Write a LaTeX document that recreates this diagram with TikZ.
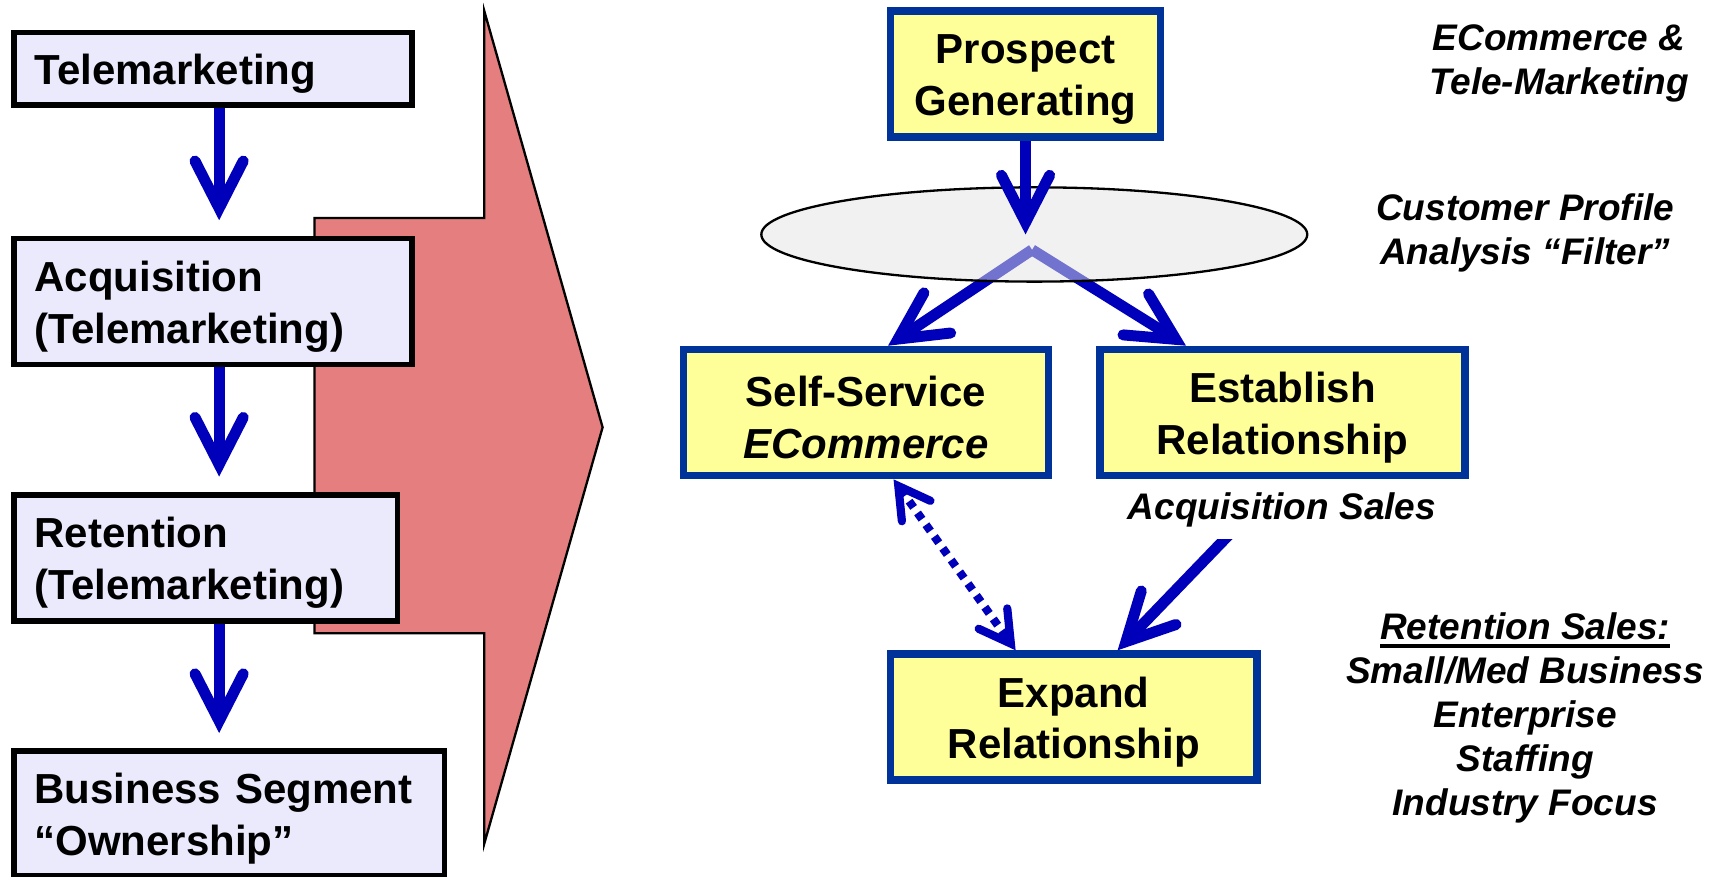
\documentclass[tikz,border=0pt]{standalone}
\usepackage{fontspec}
\setmainfont{Liberation Sans}
\usetikzlibrary{arrows.meta,shapes.geometric}

\definecolor{stagelav}{RGB}{234,234,252}
\definecolor{paleyellow}{RGB}{255,255,153}
\definecolor{boxblue}{RGB}{0,51,153}
\definecolor{arrowblue}{RGB}{0,0,187}
\definecolor{funnelpink}{RGB}{229,126,126}
\definecolor{filtergray}{RGB}{228,228,228}

% raises the first line so caps sit centred in the box
\newcommand\topstrut{\rule{0pt}{0.37cm}}
% heavy underline for the retention heading
\newcommand\ulinetext[1]{\setbox0=\hbox{#1}\rlap{\rule[-0.075cm]{\wd0}{0.035cm}}\box0}

\tikzset{
  bigbarb/.tip={Straight Barb[length=0.43cm,width=0.44cm,line cap=round,line join=miter]},
  smallbarb/.tip={Straight Barb[length=0.28cm,width=0.32cm,line cap=round,line join=miter]},
}

\begin{document}
\begin{tikzpicture}[x=0.01cm, y=-0.01cm,
  boxfont/.style={font=\fontsize{10.9pt}{13.4pt}\selectfont\bfseries},
  notefont/.style={font=\fontsize{9.6pt}{11.4pt}\selectfont\bfseries\itshape},
  leftbox/.style={draw=black, line width=1.45pt, fill=stagelav, anchor=north west,
    inner xsep=0.19cm, inner ysep=0pt, align=left, boxfont},
  stagebox/.style={draw=boxblue, line width=1.95pt, fill=paleyellow, inner sep=0pt,
    align=center, boxfont, minimum height=1.15cm},
  flow/.style={draw=arrowblue, line width=0.1cm, -bigbarb},
  dotflow/.style={draw=arrowblue, line width=0.075cm, dash pattern=on 0.07cm off 0.062cm,
    smallbarb-smallbarb},
  note/.style={notefont, align=center},
]
\useasboundingbox (0,0) rectangle (1568,800);

% funnel arrow behind the stage list
\filldraw[fill=funnelpink, draw=black, line width=0.6pt, line join=miter]
  (442,10) -- (442,199) -- (287,199) -- (287,578) -- (442,578) -- (442,770) -- (550,390) -- cycle;

% stage list on the left
\node[leftbox, text width=3.25cm, minimum height=0.66cm] (tele) at (10,27) {\topstrut Telemarketing};
\node[leftbox, text width=3.25cm, minimum height=1.15cm] (acq) at (10,215) {\topstrut Acquisition\\(Telemarketing)};
\node[leftbox, text width=3.12cm, minimum height=1.15cm] (ret) at (10,449) {\topstrut Retention\\(Telemarketing)};
\node[leftbox, text width=3.55cm, minimum height=1.14cm] (bus) at (10,683) {\topstrut Business Segment\\“Ownership”};

\coordinate (ax) at (200,0);
\draw[flow, shorten >=0.14cm] (tele.south -| ax) -- (acq.north -| ax);
\draw[flow, shorten >=0.14cm] (acq.south -| ax) -- (ret.north -| ax);
\draw[flow, shorten >=0.14cm] (ret.south -| ax) -- (bus.north -| ax);

% sales flow on the right
\node[stagebox, minimum width=2.46cm] (pg) at (936,67.5) {\topstrut Prospect\\Generating};
\node[stagebox, minimum width=3.33cm] (ss) at (790.5,376.5) {\topstrut Self-Service\\{\itshape ECommerce}};
\node[stagebox, minimum width=3.33cm] (er) at (1170.5,376.5) {\topstrut Establish\\Relationship};
\node[stagebox, minimum width=3.34cm] (ex) at (980,654.5) {\topstrut Expand\\Relationship};

\coordinate (split) at (942,228);
\draw[flow] (split) -- ([xshift=0.2cm]ss.north);
\draw[flow] (split) -- ([xshift=-0.88cm]er.north);

% profile filter, translucent over the split
\node[ellipse, draw=black, line width=0.6pt, fill=filtergray, fill opacity=0.5, draw opacity=1,
  minimum width=4.98cm, minimum height=0.86cm, inner sep=0pt] (filt) at (944,214) {};
\draw[flow] (pg.south) -- (pg.south |- filt.center);

\draw[flow, shorten <=0.12cm] (er.south) -- ([xshift=0.4cm]ex.north);
\node[notefont, fill=white, inner xsep=2pt, inner ysep=0pt, minimum height=0.54cm] (acqsales) at (1170,465) {Acquisition Sales};

\draw[dotflow] ([xshift=0.25cm]ss.south) -- ([xshift=-0.53cm]ex.north);

% side notes
\node[note] (chan) at (1423,58) {ECommerce \&\\Tele-Marketing};
\node[note] (filtnote) at (1392,213) {Customer Profile\\Analysis “Filter”};
\node[note] (retnote) at (1392,655) {\ulinetext{Retention Sales:}\\Small/Med Business\\Enterprise\\Staffing\\Industry Focus};
\end{tikzpicture}
\end{document}
